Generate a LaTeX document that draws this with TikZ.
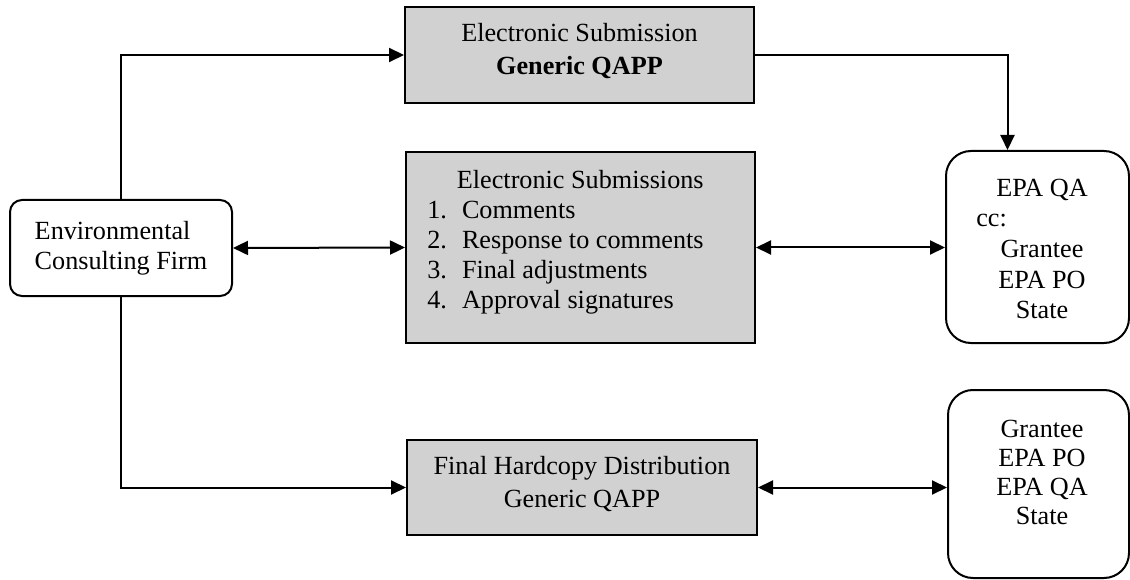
\documentclass[tikz,border=0pt]{standalone}
\usepackage{fontspec}
\setmainfont{Liberation Serif}
\usetikzlibrary{arrows.meta}
\newcommand\topText{\begin{tabular}{@{}c@{}}Electronic Submission\\[3pt]\textbf{Generic QAPP}\end{tabular}}
\newcommand\midText{\begin{tabular}{@{}l@{\hspace{15pt}}l@{\hspace{30pt}}}
   \multicolumn{2}{r@{\hspace{30pt}}}{Electronic Submissions}\\
   1. & Comments\\
   2. & Response to comments\\
   3. & Final adjustments\\
   4. & Approval signatures
   \end{tabular}}
\newcommand\botText{\begin{tabular}{@{}c@{}}Final Hardcopy Distribution\\[3pt]Generic QAPP\end{tabular}}
\newcommand\rtopText{\begin{tabular}{@{\hspace{9pt}}c@{}}
   EPA QA\\[0.7pt]
   \multicolumn{1}{@{\hspace{9pt}}l@{}}{\hspace*{-20pt}cc:}\\[0.7pt]
   Grantee\\[0.7pt]
   EPA PO\\[0.7pt]
   State
   \end{tabular}}
\newcommand\rbotText{\begin{tabular}{@{\hspace{7pt}}c@{}}Grantee\\[-1pt]EPA PO\\[-1pt]EPA QA\\[-1pt]State\end{tabular}}
\begin{document}
\begin{tikzpicture}[x=1pt,y=-1pt,
  every node/.style={font=\fontsize{26.2}{30}\selectfont},
  box/.style={draw=black,line width=2pt,inner sep=0pt},
  graybox/.style={box,fill=black!18},
  roundbox/.style={box,fill=white,rounded corners=#1},
  inlabel/.style={inner sep=0pt,yshift=#1},
  conn/.style={line width=2pt,-{Triangle[length=15pt,width=14pt]}},
  dconn/.style={line width=2pt,{Triangle[length=15pt,width=14pt]}-{Triangle[length=15pt,width=14pt]}}]
\useasboundingbox (0,0) rectangle (1130,580);
\node[roundbox=12pt,minimum width=222pt,minimum height=96pt,align=left] (firm) at (121,248) {Environmental\\Consulting Firm};
\node[graybox,minimum width=349pt,minimum height=96pt,
  label={[inlabel=2.5pt]center:\topText}] (top) at (579.5,55) {};
\node[graybox,minimum width=349pt,minimum height=191pt,
  label={[inlabel=5pt]center:\midText}] (mid) at (580.5,247.5) {};
\node[graybox,minimum width=350pt,minimum height=95pt,
  label={[inlabel=3pt]center:\botText}] (bot) at (582,487.5) {};
\node[roundbox=25pt,minimum width=183pt,minimum height=192pt,
  label={[inlabel=-4.5pt]center:\rtopText}] (rtop) at (1037.5,247) {};
\node[roundbox=25pt,minimum width=181pt,minimum height=188pt,
  label={[inlabel=9pt]center:\rbotText}] (rbot) at (1038.5,484) {};
\draw[conn] (firm.north) |- (top.west);
\draw[conn] (firm.south) |- (bot.west);
\draw[dconn] (firm.east) -- (mid.west);
\draw[conn] (top.east) -| ([xshift=-30pt]rtop.north);
\draw[dconn] (mid.east) -- (mid.east -| rtop.west);
\draw[dconn] (bot.east) -- (bot.east -| rbot.west);
\end{tikzpicture}
\end{document}
